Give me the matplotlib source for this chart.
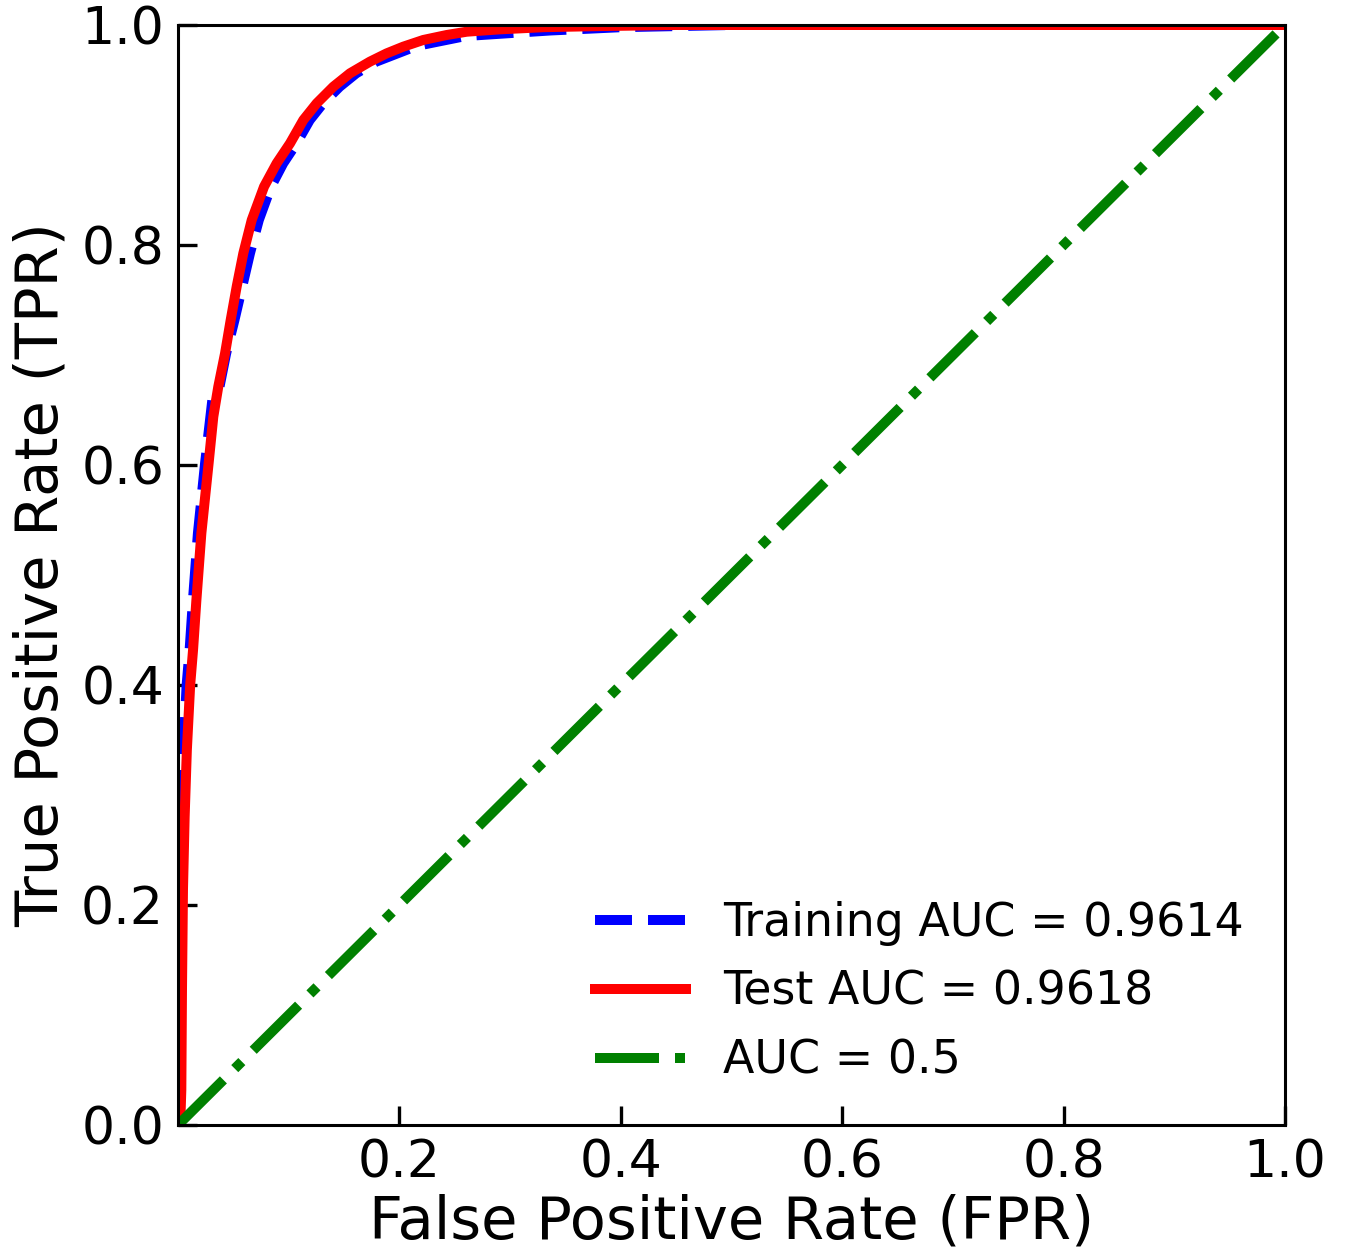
import matplotlib
matplotlib.use("Agg")
import matplotlib.pyplot as plt

# Test ROC curve (red)
test_fpr = [0.0, 0.002, 0.003, 0.0036, 0.0045, 0.006, 0.008, 0.011, 0.0136, 0.0166,
            0.0211, 0.0277, 0.0319, 0.0364, 0.0425, 0.0476, 0.0530, 0.0590, 0.0666,
            0.0777, 0.0891, 0.1012, 0.1132, 0.1253, 0.1403, 0.1554, 0.1734, 0.1885,
            0.2035, 0.2216, 0.2427, 0.2608, 0.29, 0.33, 0.38, 0.45, 0.6, 0.8, 1.0]
test_tpr = [0.0, 0.0, 0.032, 0.123, 0.214, 0.28, 0.341, 0.40, 0.432, 0.477,
            0.538, 0.602, 0.6439, 0.6712, 0.7015, 0.7318, 0.7621, 0.7924, 0.8227,
            0.8530, 0.8742, 0.8924, 0.9136, 0.9288, 0.9439, 0.9561, 0.9667, 0.9742,
            0.9803, 0.9864, 0.9909, 0.9939, 0.996, 0.998, 0.999, 1.0, 1.0, 1.0, 1.0]

# Training ROC curve (blue)
train_fpr = [0.0, 0.0, 0.0005, 0.002, 0.005, 0.0078, 0.0105, 0.0135, 0.018, 0.0245,
             0.031, 0.0375, 0.0435, 0.051, 0.058, 0.065, 0.073, 0.084, 0.095, 0.107,
             0.119, 0.131, 0.146, 0.161, 0.179, 0.2157, 0.26, 0.336, 0.40, 0.5, 1.0]
train_tpr = [0.0, 0.20, 0.28, 0.30, 0.341, 0.40, 0.432, 0.477, 0.538, 0.602,
             0.659, 0.6712, 0.7015, 0.7318, 0.7621, 0.7924, 0.8227, 0.853, 0.8742, 0.8924,
             0.9136, 0.9288, 0.9439, 0.9561, 0.9667, 0.981, 0.990, 0.995, 0.998, 1.0, 1.0]

chance = [0.0, 1.0]

labels = ["Training AUC = 0.9614", "Test AUC = 0.9618", "AUC = 0.5"]
xticks = [0.2, 0.4, 0.6, 0.8, 1.0]
yticks = [0.0, 0.2, 0.4, 0.6, 0.8, 1.0]

plt.rcParams['font.family'] = ['DejaVu Sans']
fig = plt.figure(figsize=(13.48, 12.56), dpi=100)
ax = fig.add_axes([178/1348, 1 - 1125/1256, (1285-178)/1348, 1100/1256])

lw = 7.2
ax.plot(train_fpr, train_tpr, color='blue', linestyle='--', lw=lw, label=labels[0])
ax.plot(test_fpr, test_tpr, color='red', linestyle='-', lw=lw, label=labels[1])
ax.plot(chance, chance, color='green', linestyle='-.', lw=lw, label=labels[2])

ax.set_xlim(0, 1)
ax.set_ylim(0, 1)
ax.set_xticks(xticks)
ax.set_yticks(yticks)
ax.tick_params(direction='in', length=14, width=2.4, labelsize=37.5, pad=10)
for s in ax.spines.values():
    s.set_linewidth(2.2)

ax.set_xlabel("False Positive Rate (FPR)", fontsize=42.6, labelpad=3)
ax.set_ylabel("True Positive Rate (TPR)", fontsize=42.6, labelpad=8)

ax.legend(loc='lower right', frameon=False, fontsize=33, labelspacing=0.52)

fig.savefig("out.png", dpi=100)
